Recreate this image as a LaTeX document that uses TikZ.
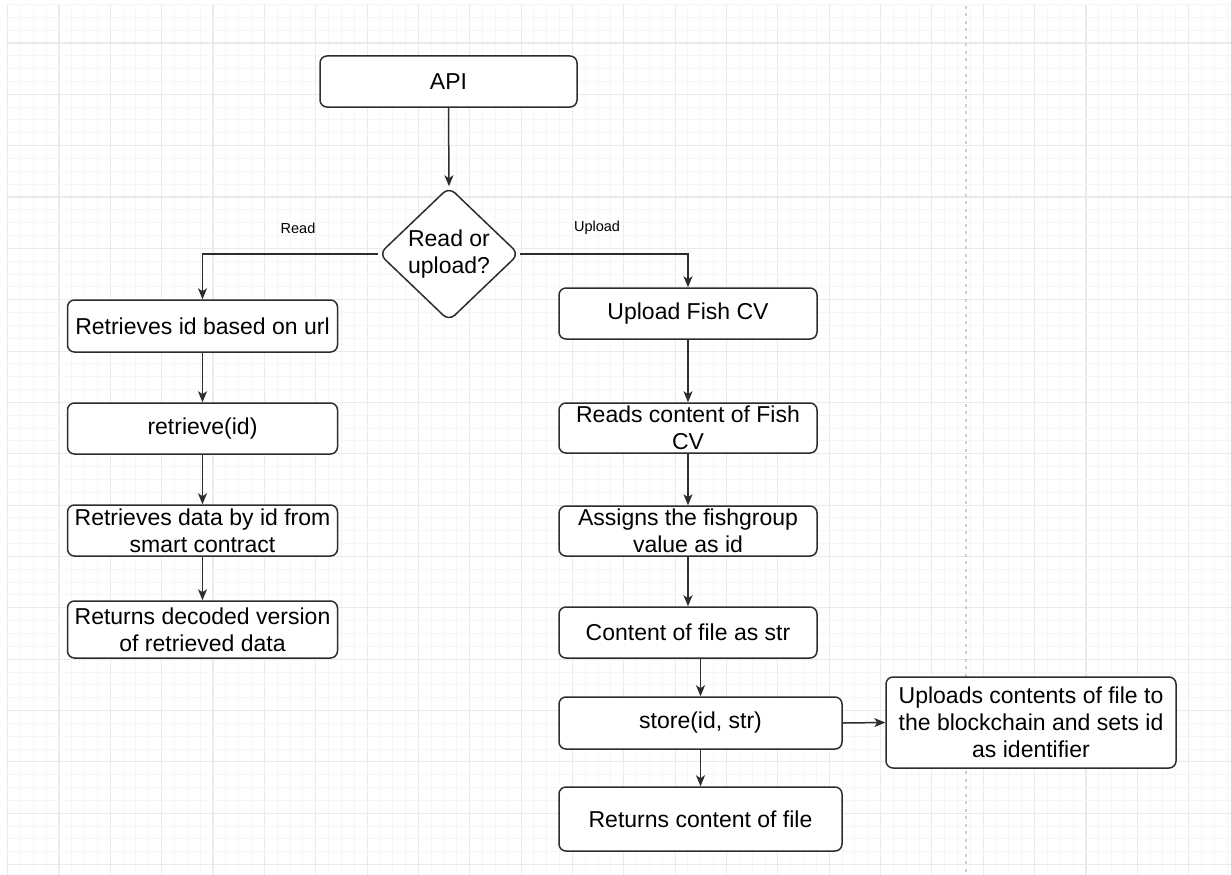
\documentclass[tikz,border=0pt]{standalone}
\usepackage{fontspec}
\setmainfont{Liberation Sans}
\usetikzlibrary{shapes.geometric,arrows.meta}
\definecolor{gminor}{RGB}{246,246,246}
\definecolor{gmajor}{RGB}{234,234,234}
\definecolor{pageline}{RGB}{205,205,205}
\definecolor{edge}{RGB}{45,45,45}
\tikzset{
  stepbox/.style={draw=edge, line width=1.5pt, rounded corners=7pt, fill=white,
    align=center, inner sep=2pt, font=\fontsize{23}{27}\selectfont},
  decbox/.style={draw=edge, line width=1.5pt, rounded corners=8pt, fill=white, shape=diamond,
    align=center, inner sep=0pt, minimum width=140pt, minimum height=134pt,
    font=\fontsize{23}{27}\selectfont},
  arr/.style={draw=edge, line width=1.5pt, -{Stealth[length=11pt,width=9pt,inset=3pt]}},
  lbl/.style={font=\fontsize{14.5}{17}\selectfont, inner sep=0pt},
}
\begin{document}
\begin{tikzpicture}[x=1pt,y=-1pt]
\useasboundingbox (0,0) rectangle (1231,875);
\fill[white] (0,0) rectangle (1231,875);
% grid
\foreach \k in {0,...,95}{
  \pgfmathsetmacro{\xx}{7.6+12.8375*\k}
  \pgfmathtruncatemacro{\mm}{mod(\k,4)}
  \ifnum\mm=0
    \draw[gmajor, line width=1.1pt] (\xx,5) -- (\xx,875);
  \else
    \draw[gminor, line width=1pt] (\xx,5) -- (\xx,875);
  \fi
}
\foreach \k in {0,...,68}{
  \pgfmathsetmacro{\yy}{4.45+12.8375*\k}
  \pgfmathtruncatemacro{\mm}{mod(\k,4)}
  \ifnum\mm=3
    \draw[gmajor, line width=1.1pt] (7,\yy) -- (1231,\yy);
  \else
    \draw[gminor, line width=1pt] (7,\yy) -- (1231,\yy);
  \fi
}
\draw[pageline, line width=1.6pt, dash pattern=on 3pt off 4.5pt] (966,6) -- (966,875);

% nodes
\node[stepbox, minimum width=257pt, minimum height=51pt] (api) at (448.5,81.5) {API};
\node[decbox] (dec) at (449,254) {Read or\\upload?};

\node[stepbox, minimum width=270pt, minimum height=52pt] (l1) at (202.5,326) {Retrieves id based on url};
\node[stepbox, minimum width=270pt, minimum height=51pt] (l2) at (202.5,428.5) {retrieve(id)};
\node[stepbox, minimum width=270pt, minimum height=51pt] (l3) at (202.5,530.5) {Retrieves data by id from\\smart contract};
\node[stepbox, minimum width=270pt, minimum height=57pt] (l4) at (202.5,629.5) {Returns decoded version\\of retrieved data};

\node[stepbox, minimum width=258pt, minimum height=51pt] (r1) at (688,313.5) {Upload Fish CV};
\node[stepbox, minimum width=258pt, minimum height=50pt] (r2) at (688,428) {Reads content of Fish\\CV};
\node[stepbox, minimum width=258pt, minimum height=50pt] (r3) at (688,531) {Assigns the fishgroup\\value as id};
\node[stepbox, minimum width=258pt, minimum height=51pt] (r4) at (688,632.5) {Content of file as str};
\node[stepbox, minimum width=283pt, minimum height=52pt] (r5) at (700.5,723) {store(id, str)};
\node[stepbox, minimum width=283pt, minimum height=64pt] (r6) at (700.5,819) {Returns content of file};
\node[stepbox, minimum width=290pt, minimum height=91pt] (r7) at (1031,722.5) {Uploads contents of file to\\the blockchain and sets id\\as identifier};

\node[lbl] (lread) at (298,228) {Read};
\node[lbl] (lup) at (597,228) {Upload};

% connectors
\draw[arr] (api.south) -- (dec.north);
\draw[arr] (dec.west) -| (l1.north);
\draw[arr] (dec.east) -| (r1.north);
\draw[arr] (l1) -- (l2);
\draw[arr] (l2) -- (l3);
\draw[arr] (l3) -- (l4);
\draw[arr] (r1) -- (r2);
\draw[arr] (r2) -- (r3);
\draw[arr] (r3) -- (r4);
\draw[arr] (r4.south -| r5.north) -- (r5.north);
\draw[arr] (r5) -- (r6);
\draw[arr] (r5.east) -- (r7.west);
\end{tikzpicture}
\end{document}
